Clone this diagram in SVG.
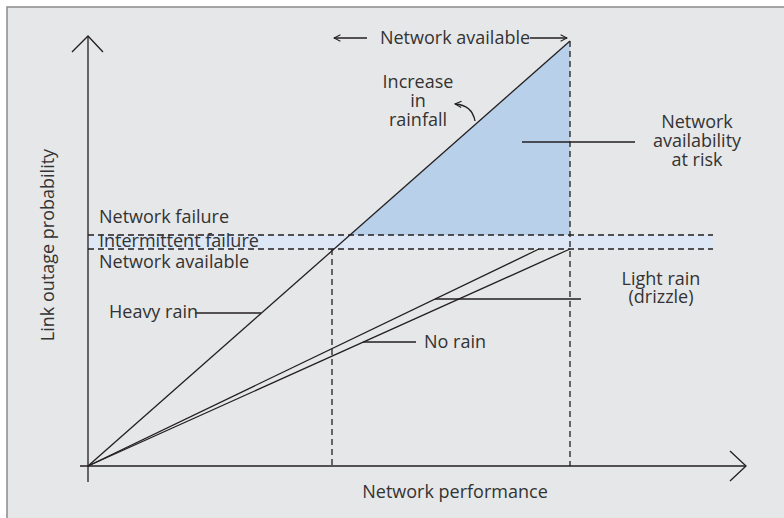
<svg xmlns="http://www.w3.org/2000/svg" width="784" height="518" viewBox="0 0 784 518">
  <defs>
    <style>
      .ln { stroke: #231f20; stroke-width: 1.3; fill: none; }
      .dash { stroke: #231f20; stroke-width: 1.3; fill: none; stroke-dasharray: 6 4; }
      .lbl { font-family: "Open Sans", "Noto Sans", "Liberation Sans", sans-serif; font-size: 18px; fill: #333333; }
      .mid { text-anchor: middle; }
    </style>
    <marker id="open" viewBox="0 0 10 10" refX="9" refY="5" markerWidth="8" markerHeight="8" markerUnits="userSpaceOnUse" orient="auto">
      <path d="M1,1 L9,5 L1,9" fill="none" stroke="#231f20" stroke-width="1.3"/>
    </marker>
  </defs>

  <!-- panel background and frame -->
  <rect x="0" y="0" width="784" height="518" fill="#ffffff"/>
  <rect x="7" y="7" width="790" height="530" fill="#e6e7e8" stroke="#8a8a8a" stroke-width="1.5"/>

  <!-- shaded regions -->
  <g id="regions">
    <rect x="88" y="235" width="625" height="14" fill="#dee7f5"/>
    <polygon points="350,235 570,41 570,235" fill="#b9d0ea"/>
  </g>

  <!-- axes -->
  <g id="axes">
    <line class="ln" x1="88" y1="482" x2="88" y2="37"/>
    <polyline class="ln" points="72,52 88,36 103,52"/>
    <line class="ln" x1="80" y1="466" x2="745" y2="466"/>
    <polyline class="ln" points="730,451 746,466 730,481"/>
  </g>

  <!-- connectors: thresholds, rain lines and label leaders -->
  <g id="connectors">
    <line class="dash" x1="88" y1="235" x2="713" y2="235"/>
    <line class="dash" x1="88" y1="249" x2="713" y2="249"/>
    <line class="dash" x1="570" y1="41" x2="570" y2="466"/>
    <line class="dash" x1="332" y1="249" x2="332" y2="466"/>

    <line class="ln" x1="88" y1="466" x2="570" y2="41"/>
    <line class="ln" x1="88" y1="466" x2="539" y2="249"/>
    <line class="ln" x1="88" y1="466" x2="570" y2="249"/>

    <line class="ln" x1="195" y1="313" x2="261" y2="313"/>
    <line class="ln" x1="435" y1="299" x2="581" y2="299"/>
    <line class="ln" x1="363" y1="342" x2="416" y2="342"/>
    <line class="ln" x1="522" y1="142" x2="635" y2="142"/>

    <line class="ln" x1="367" y1="38" x2="334" y2="38" marker-end="url(#open)"/>
    <line class="ln" x1="530" y1="38" x2="567" y2="38" marker-end="url(#open)"/>
    <path class="ln" d="M475,121 Q472,105 455,104" marker-end="url(#open)"/>
  </g>

  <!-- labels -->
  <g id="label-top">
    <text class="lbl mid" x="455" y="44">Network available</text>
  </g>
  <g id="label-increase">
    <text class="lbl mid" x="418" y="88">Increase</text>
    <text class="lbl mid" x="418" y="107">in</text>
    <text class="lbl mid" x="418" y="126">rainfall</text>
  </g>
  <g id="label-risk">
    <text class="lbl mid" x="697" y="128">Network</text>
    <text class="lbl mid" x="697" y="147">availability</text>
    <text class="lbl mid" x="697" y="166">at risk</text>
  </g>
  <g id="label-bands">
    <text class="lbl" x="99" y="223">Network failure</text>
    <text class="lbl" x="99" y="247">Intermittent failure</text>
    <text class="lbl" x="99" y="268">Network available</text>
  </g>
  <g id="label-heavy">
    <text class="lbl" x="109" y="318">Heavy rain</text>
  </g>
  <g id="label-light">
    <text class="lbl mid" x="661" y="285">Light rain</text>
    <text class="lbl mid" x="661" y="303">(drizzle)</text>
  </g>
  <g id="label-norain">
    <text class="lbl" x="424" y="348">No rain</text>
  </g>
  <g id="label-xaxis">
    <text class="lbl mid" x="455" y="498">Network performance</text>
  </g>
  <g id="label-yaxis">
    <text class="lbl mid" transform="translate(54,245) rotate(-90)">Link outage probability</text>
  </g>
</svg>
